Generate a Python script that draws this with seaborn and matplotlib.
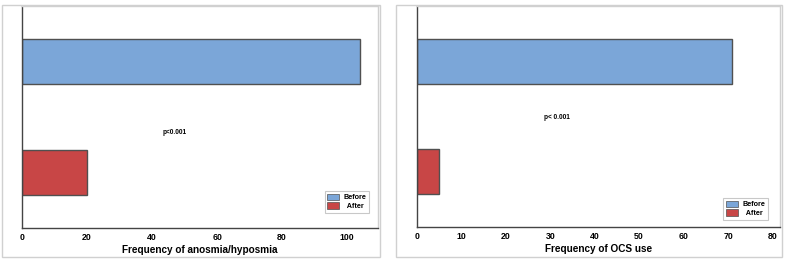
import matplotlib
matplotlib.use("Agg")
import matplotlib.pyplot as plt
import seaborn as sns
from matplotlib.patches import Patch, Rectangle

# data
groups = ["Before", "After"]
anosmia_counts = [104, 20]
ocs_counts = [71, 5]
colors = ["#7BA6D8", "#C84646"]

sns.set_style("white")
plt.rcParams["font.family"] = ["Liberation Sans", "DejaVu Sans"]
plt.rcParams["text.color"] = "black"
plt.rcParams["axes.labelcolor"] = "black"
plt.rcParams["xtick.color"] = "black"

fig = plt.figure(figsize=(7.88, 2.6), dpi=100)
W, H = 788, 260


def px_axes(x0, y0, x1, y1):
    # pixel box (top-left origin) -> figure axes
    return fig.add_axes([x0 / W, 1 - y1 / H, (x1 - x0) / W, (y1 - y0) / H])


# outer panel frames
for x0, x1 in [(2, 380), (396, 782)]:
    fig.patches.append(Rectangle((x0 / W, 1 - 257 / H), (x1 - x0) / W, 252 / H,
                                 transform=fig.transFigure, fill=False,
                                 edgecolor="#d0d0d0", linewidth=1))

panels = [
    (px_axes(22, 6, 378, 228), anosmia_counts, 109.5, range(0, 101, 20),
     "Frequency of anosmia/hyposmia", "p<0.001", (47, 0.64), (0.975, 0.068)),
    (px_axes(417, 6, 780, 227), ocs_counts, 81.7, range(0, 81, 10),
     "Frequency of OCS use", "p< 0.001", (31.4, 0.51), (0.967, 0.032)),
]

for ax, vals, xmax, ticks, xlabel, ptxt, ppos, legpos in panels:
    sns.barplot(x=vals, y=groups, hue=groups, palette=colors, orient="h",
                width=0.41, edgecolor="#505050", linewidth=1.0,
                legend=False, saturation=1, ax=ax)
    ax.set_xlim(0, xmax)
    ax.set_ylim(1.5, -0.5)
    ax.set_xticks(list(ticks))
    ax.set_xticklabels([str(t) for t in ticks], fontsize=6.3, fontweight="bold")
    ax.set_yticks([0, 1])
    ax.set_yticklabels([])
    ax.tick_params(axis="both", length=2, color="#bbbbbb", pad=1.5, direction="out")
    ax.set_ylabel("")
    ax.set_xlabel(xlabel, fontsize=7.2, fontweight="bold", labelpad=2.5)
    for s in ["left", "bottom"]:
        ax.spines[s].set_color("#444444")
        ax.spines[s].set_linewidth(1.0)
    for s in ["top", "right"]:
        ax.spines[s].set_visible(True)
        ax.spines[s].set_color("#d0d0d0")
        ax.spines[s].set_linewidth(1.0)
    ax.text(ppos[0], ppos[1], ptxt, fontsize=4.7, fontweight="bold",
            ha="center", va="center")
    handles = [Patch(facecolor=c, edgecolor="#505050", linewidth=0.5) for c in colors]
    leg = ax.legend(handles, ["Before", "  After"], loc="lower right",
                    bbox_to_anchor=legpos, fontsize=5.2, frameon=True,
                    fancybox=False, handlelength=1.6, handleheight=1.0,
                    borderpad=0.4, labelspacing=0.15, handletextpad=0.6,
                    borderaxespad=0)
    leg.get_frame().set_edgecolor("#bbbbbb")
    leg.get_frame().set_linewidth(0.8)
    for t in leg.get_texts():
        t.set_fontweight("bold")

fig.savefig("out.png", dpi=100)
